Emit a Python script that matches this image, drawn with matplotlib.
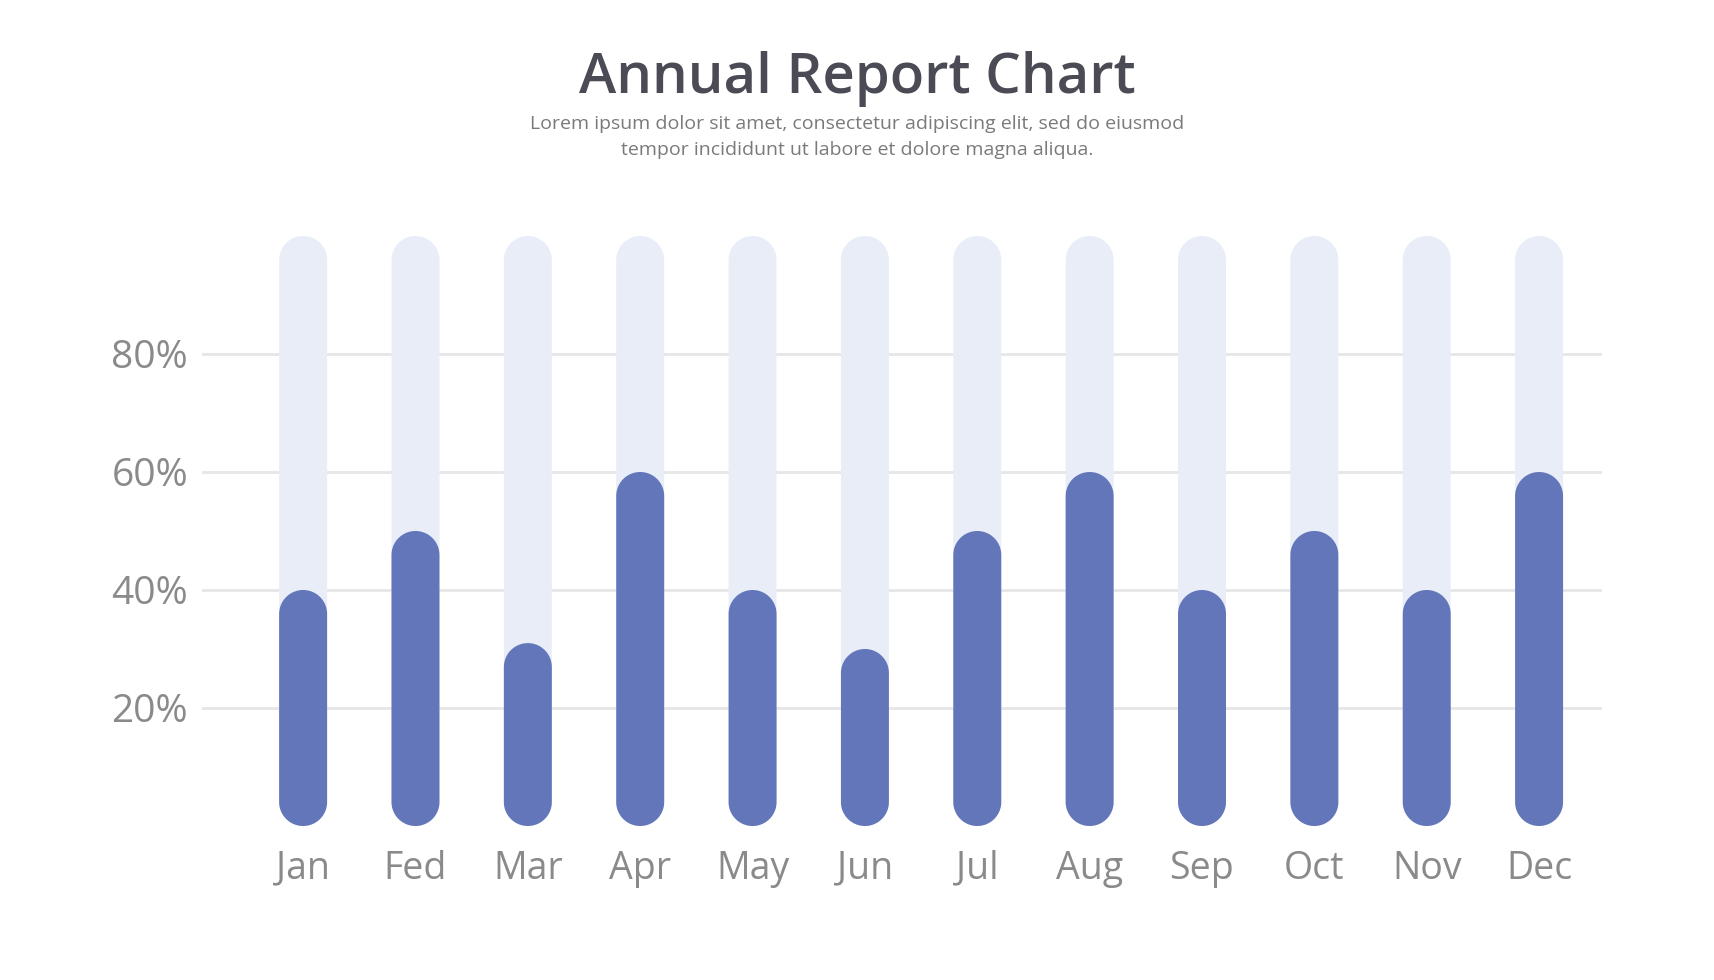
import matplotlib
matplotlib.use('Agg')
import matplotlib.pyplot as plt
from matplotlib.patches import Polygon
import numpy as np

# data
months = ['Jan', 'Fed', 'Mar', 'Apr', 'May', 'Jun', 'Jul', 'Aug', 'Sep', 'Oct', 'Nov', 'Dec']
values = [40, 50, 31, 60, 40, 30, 50, 60, 40, 50, 40, 60]
track = [100] * 12
grid_ticks = [20, 40, 60, 80]
grid_labels = ['20%', '40%', '60%', '80%']

dark = '#6276B9'
light = '#E8EDF8'
title_col = '#4B4B55'
label_col = '#8A8A8A'

plt.rcParams['font.family'] = ['Open Sans', 'DejaVu Sans']

W, H = 1715, 980
fig = plt.figure(figsize=(W / 100, H / 100), dpi=100)
fig.patch.set_facecolor('white')

# axes box in pixels (left, bottom from top)
ax_l, ax_r = 202, 1602
ax_top, ax_bot = 236, 826
ax = fig.add_axes([ax_l / W, 1 - ax_bot / H, (ax_r - ax_l) / W, (ax_bot - ax_top) / H])
xmin, xmax = -0.9, 11.56
ax.set_xlim(xmin, xmax)
ax.set_ylim(0, 100)

bar_w = 0.427
# cap radius in y units so the ends are true half circles
x_per_px = (xmax - xmin) / (ax_r - ax_l)
y_per_px = 100 / (ax_bot - ax_top)
rx = bar_w / 2
ry = rx * y_per_px / x_per_px

for y in grid_ticks:
    ax.axhline(y, color='#E6E6E6', lw=2, zorder=0)

t_top = np.linspace(0, np.pi, 60)
t_bot = np.linspace(np.pi, 2 * np.pi, 60)


def capsule(x, h, c, z):
    xs = np.concatenate([x + rx * np.cos(t_top), x + rx * np.cos(t_bot)])
    ys = np.concatenate([h - ry + ry * np.sin(t_top), ry + ry * np.sin(t_bot)])
    ax.add_patch(Polygon(np.column_stack([xs, ys]), closed=True, fc=c, ec='none', zorder=z))


for i in range(len(months)):
    capsule(i, track[i], light, 2)
    capsule(i, values[i], dark, 3)

ax.set_xticks(range(len(months)))
ax.set_xticklabels(months, fontsize=27, color=label_col)
ax.set_yticks(grid_ticks)
ax.set_yticklabels(grid_labels, fontsize=28, color=label_col)
ax.tick_params(axis='x', length=0, pad=17)
ax.tick_params(axis='y', length=0, pad=10)
for s in ax.spines.values():
    s.set_visible(False)

fig.text(0.5, 1 - 79 / H, 'Annual Report Chart', ha='center', va='center',
         fontsize=40.5, color=title_col, fontweight='semibold')
fig.text(0.5, 1 - 137 / H,
         'Lorem ipsum dolor sit amet, consectetur adipiscing elit, sed do eiusmod\n'
         'tempor incididunt ut labore et dolore magna aliqua.',
         ha='center', va='center', fontsize=14, color='#7A7A7A', linespacing=1.55)

fig.savefig('out.png', dpi=100, facecolor='white')
